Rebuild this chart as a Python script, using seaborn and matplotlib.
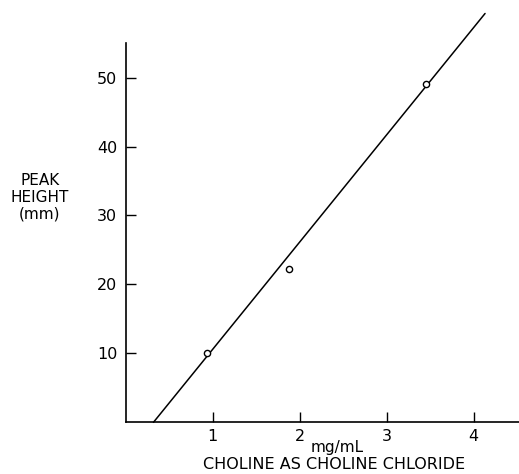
import numpy as np
import pandas as pd
import matplotlib.pyplot as plt
import seaborn as sns

# calibration points
conc_mg_ml = [0.93, 1.88, 3.45]
peak_height_mm = [10.0, 22.3, 49.1]

# drawn calibration line (endpoints in data units)
line_x = [0.32, 4.13]
line_y = [0.0, 59.3]

x_ticks = [1, 2, 3, 4]
y_ticks = [10, 20, 30, 40, 50]

sns.set_theme(style="ticks")
plt.rcParams["font.family"] = ["DejaVu Sans"]
plt.rcParams["text.color"] = "black"

fig = plt.figure(figsize=(5.19, 4.74), dpi=100)
ax = fig.add_axes([0.242, 0.109, 0.758, 0.80])

pts = pd.DataFrame({"conc": conc_mg_ml, "height": peak_height_mm})
fit = pd.DataFrame({"conc": line_x, "height": line_y})

sns.lineplot(data=fit, x="conc", y="height", color="black", linewidth=1.1,
             ax=ax, clip_on=False)
sns.scatterplot(data=pts, x="conc", y="height", marker="o", s=20,
                facecolor="white", edgecolor="black", linewidth=1.0,
                ax=ax, zorder=3)

ax.set_xlim(0, 4.52)
ax.set_ylim(0, 55)
ax.set_xticks(x_ticks)
ax.set_yticks(y_ticks)
ax.set_xticklabels([str(t) for t in x_ticks])
ax.set_yticklabels([str(t) for t in y_ticks])
ax.tick_params(axis="both", direction="in", length=7, width=1.0,
               labelsize=11.5, colors="black", pad=5)
ax.tick_params(axis="y", pad=6)

sns.despine(ax=ax)
for side in ["left", "bottom"]:
    ax.spines[side].set_color("black")
    ax.spines[side].set_linewidth(1.2)

ax.set_xlabel("")
ax.set_ylabel("")

fig.text(0.077, 0.583, "PEAK\nHEIGHT\n(mm)", ha="center", va="center",
         fontsize=11, linespacing=1.15)
fig.text(0.65, 0.055, "mg/mL", ha="center", va="center", fontsize=11)
fig.text(0.643, 0.019, "CHOLINE AS CHOLINE CHLORIDE", ha="center",
         va="center", fontsize=11.5)

fig.savefig("out.png", dpi=100)
